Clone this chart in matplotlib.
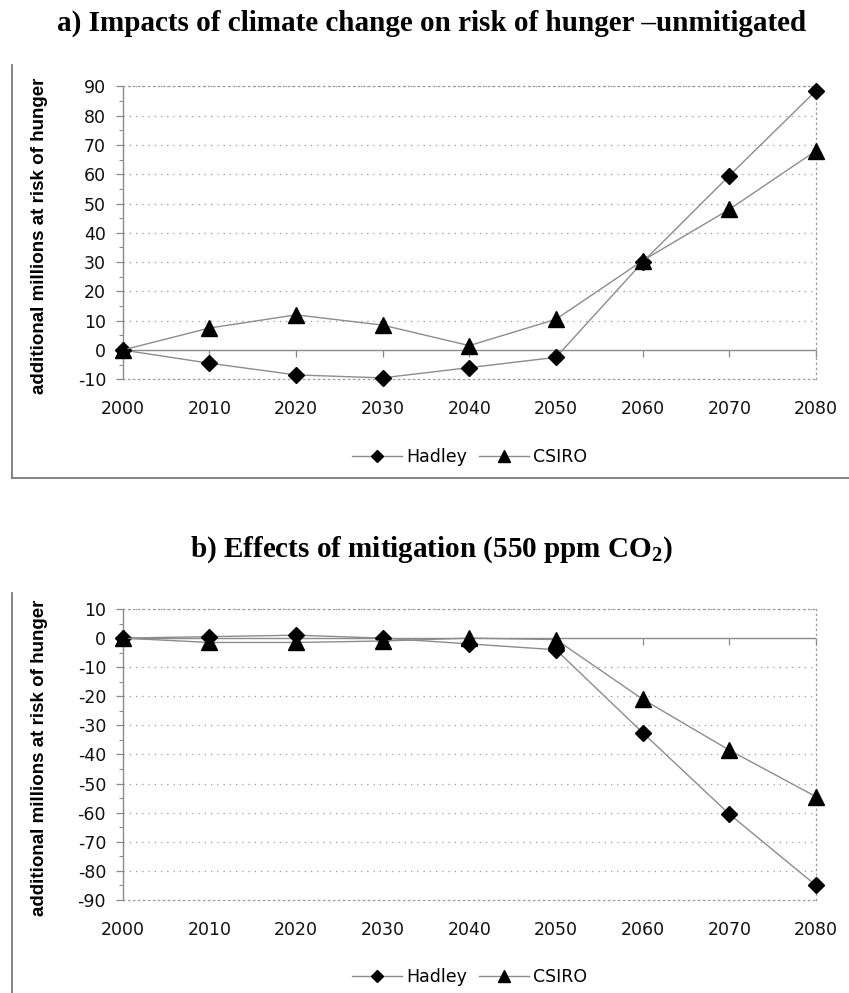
import matplotlib
matplotlib.use("Agg")
import matplotlib.pyplot as plt
from matplotlib.lines import Line2D
from matplotlib.ticker import MultipleLocator
import matplotlib.markers as mmarkers

years = [2000, 2010, 2020, 2030, 2040, 2050, 2060, 2070, 2080]
year_labels = [str(y) for y in years]

hadley_a = [0, -4.5, -8.5, -9.5, -6, -2.5, 30, 59.5, 88.5]
csiro_a = [0, 7.5, 12, 8.5, 1.5, 10.5, 30.5, 48, 68]

hadley_b = [0, 0.5, 1, 0, -2, -4, -32.5, -60.5, -85]
csiro_b = [0, -1.5, -1.5, -1, 0, -0.5, -21, -38.5, -54.5]

title_a = "a) Impacts of climate change on risk of hunger \u2013unmitigated"
title_b = r"b) Effects of mitigation (550 ppm CO$_\mathbf{2}$)"
ylabel = "additional millions at risk of hunger"
series_names = ["Hadley", "CSIRO"]

plt.rcParams['mathtext.fontset'] = 'custom'
plt.rcParams['mathtext.rm'] = 'Liberation Serif:bold'
plt.rcParams['mathtext.bf'] = 'Liberation Serif:bold'
plt.rcParams['axes.unicode_minus'] = False

W, H = 849, 993
fig = plt.figure(figsize=(W / 100, H / 100), dpi=100)

GRAY = '#8a8a8a'
LINE_GRAY = '#8c8c8c'
TICK_FONT = 'DejaVu Sans'


def make_panel(rect, hadley, csiro, ylim):
    ax = fig.add_axes(rect)
    ax.set_xlim(years[0], years[-1])
    ax.set_ylim(*ylim)
    for s in ['top', 'right', 'bottom']:
        ax.spines[s].set_linestyle((0, (1, 3)))
        ax.spines[s].set_color('#9a9a9a')
        ax.spines[s].set_linewidth(0.9)
    ax.spines['left'].set_color(GRAY)
    ax.spines['left'].set_linewidth(1.0)
    ax.yaxis.set_major_locator(MultipleLocator(10))
    ax.yaxis.set_minor_locator(MultipleLocator(5))
    ax.grid(axis='y', which='major', linestyle=(0, (1, 4)), color='#9a9a9a', linewidth=0.9)
    ax.tick_params(axis='y', which='major', direction='out', length=5, width=0.9,
                   color=GRAY, pad=7, labelsize=12.5)
    ax.tick_params(axis='y', which='minor', direction='out', length=3, width=0.8, color=GRAY)
    ax.set_xticks(years)
    ax.set_xticklabels(year_labels)
    ax.tick_params(axis='x', length=0, pad=15, labelsize=12.5)
    for lab in ax.get_xticklabels() + ax.get_yticklabels():
        lab.set_fontfamily(TICK_FONT)
        lab.set_color('#111111')
    # zero axis line with category tick marks
    ax.axhline(0, color=GRAY, linewidth=1.0, zorder=1)
    ax.plot(years, [0] * len(years), linestyle='none', marker=mmarkers.TICKDOWN,
            markersize=5, markeredgewidth=0.9, color=GRAY, zorder=1, clip_on=False)
    ax.plot(years, hadley, color=LINE_GRAY, linewidth=1.0, marker='D',
            markersize=8.5, markerfacecolor='black', markeredgecolor='black',
            clip_on=False, zorder=3, label=series_names[0])
    ax.plot(years, csiro, color=LINE_GRAY, linewidth=1.0, marker='^',
            markersize=11, markerfacecolor='black', markeredgecolor='black',
            clip_on=False, zorder=3, label=series_names[1])
    ax.set_ylabel(ylabel, fontsize=13.5, fontweight='bold', family='Liberation Sans')
    ax.yaxis.set_label_coords(-0.107, 0.49)
    h1 = Line2D([], [], color=LINE_GRAY, linewidth=1.0, marker='D', markersize=6.5,
                markerfacecolor='black', markeredgecolor='black')
    h2 = Line2D([], [], color=LINE_GRAY, linewidth=1.0, marker='^', markersize=8.5,
                markerfacecolor='black', markeredgecolor='black')
    ax.legend([h1, h2], series_names, loc='center', bbox_to_anchor=(0.5, -0.265),
              ncol=2, frameon=False, handlelength=2.9, handletextpad=0.2,
              columnspacing=0.7, prop={'family': TICK_FONT, 'size': 12.5})
    return ax


ax_a = make_panel([0.1445, 0.6180, 0.8166, 0.2951], hadley_a, csiro_a, (-10, 90))
ax_b = make_panel([0.1445, 0.0937, 0.8166, 0.2930], hadley_b, csiro_b, (-90, 10))

fig.text(0.508, 0.976, title_a, ha='center', va='center', fontsize=21,
         fontweight='bold', family='Liberation Serif')
fig.text(0.508, 0.4461, title_b, ha='center', va='center', fontsize=21,
         fontweight='bold', family='Liberation Serif')

# chart frames
fx = 11.7 / W
fig.add_artist(Line2D([fx, fx], [1 - 65 / H, 1 - 478 / H], transform=fig.transFigure,
                      color='#7a7a7a', linewidth=1.3))
fig.add_artist(Line2D([fx, 1.0], [1 - 478 / H, 1 - 478 / H], transform=fig.transFigure,
                      color='#7a7a7a', linewidth=1.3))
fig.add_artist(Line2D([fx, fx], [1 - 593 / H, 0.0], transform=fig.transFigure,
                      color='#7a7a7a', linewidth=1.3))

fig.savefig('out.png', dpi=100)
